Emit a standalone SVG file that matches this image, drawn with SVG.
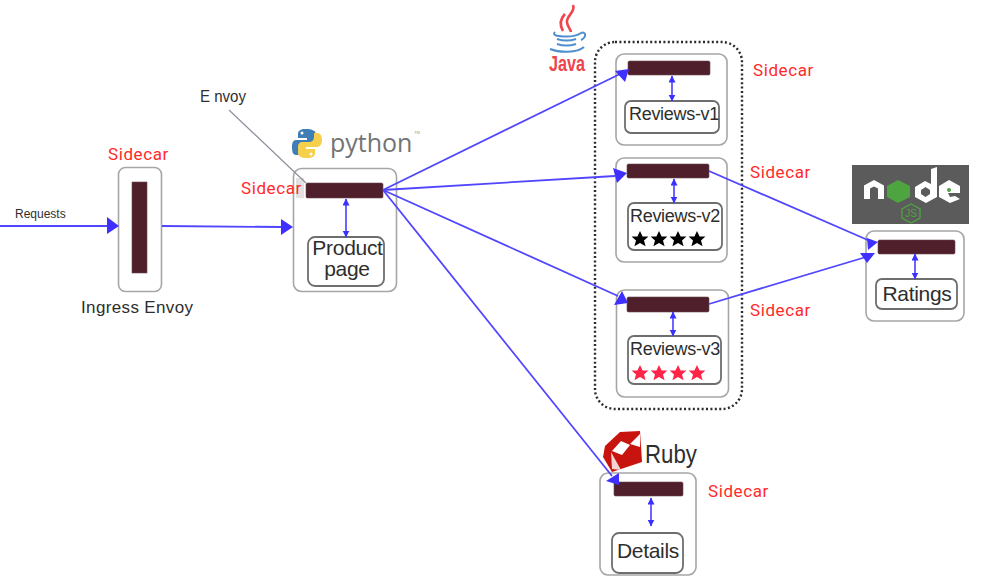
<svg xmlns="http://www.w3.org/2000/svg" width="1006" height="585" viewBox="0 0 1006 585">
<style>
.outer{fill:#fff;stroke:#a6a6a6;stroke-width:1.6}
.inner{fill:#fff;stroke:#6e6e6e;stroke-width:1.8}
.bar{fill:#4f1f2b;stroke:#6a4a52;stroke-width:.6}
.flow{fill:none;stroke:#5046ff;stroke-width:1.800}
.head{fill:#3f30ff}
.link{fill:none;stroke:#4a3dff;stroke-width:1.6;marker-start:url(#small);marker-end:url(#small)}
text{font-family:"Liberation Sans",Arial,sans-serif;fill:#2e2e2e}
.side{font-family:Roboto,"Liberation Sans",sans-serif;font-size:17px;fill:#ff2a2a;letter-spacing:.6px}
.name{font-size:18px;text-anchor:middle;letter-spacing:-.3px}
.wide{font-size:21px;letter-spacing:-.3px;text-anchor:middle}
</style>
<defs>
<marker id="small" markerUnits="userSpaceOnUse" markerWidth="8" markerHeight="10" refX="6.5" refY="3.5" orient="auto-start-reverse"><path d="M0 0L7 3.5L0 7z" fill="#3a30ff"/></marker>
<polygon id="star" points="0,-8 2.6,-2.4 8.4,-2.4 4,1.4 5.6,7.200 0,4 -5.600,7.200 -4,1.400 -8.400,-2.400 -2.600,-2.400"/>
</defs>

<rect x="595" y="42" width="147" height="367" rx="20" fill="none" stroke="#2b2b2b" stroke-width="2.4" stroke-dasharray="2 2.4"/>

<g id="ingress"><rect class="outer" x="118.500" y="167.500" width="43" height="124" rx="7"/><rect class="bar" x="132" y="182" width="15" height="91"/>
<text class="side" x="108" y="160">Sidecar</text><text x="81" y="313" font-size="17" textLength="112">Ingress Envoy</text></g>

<g id="productpage"><rect class="outer" x="293.500" y="168.500" width="103" height="123" rx="8"/><rect x="296" y="178" width="8" height="20" fill="#e2e2e2"/>
<rect class="bar" x="306" y="183" width="77" height="15" rx="1.500"/><rect class="inner" x="308" y="237" width="76" height="49" rx="7"/>
<text class="wide" x="347.500" y="255">Product</text><text class="wide" x="347" y="276">page</text>
<text class="side" x="241" y="194">Sidecar</text></g>

<g id="reviews-v1"><rect class="outer" x="616" y="54" width="111" height="91" rx="8"/><rect class="bar" x="628" y="61" width="82" height="14" rx="1.500"/><rect class="inner" x="625" y="101" width="94" height="32" rx="6"/>
<text class="name" x="674" y="120">Reviews-v1</text><text class="side" x="753" y="76">Sidecar</text></g>

<g id="reviews-v2"><rect class="outer" x="616" y="158" width="111" height="104" rx="8"/><rect class="bar" x="627" y="164" width="82" height="14" rx="1.500"/><rect class="inner" x="628" y="203" width="94" height="47" rx="6"/>
<text class="name" x="675" y="222">Reviews-v2</text>
<g fill="#000"><use href="#star" x="640" y="239"/><use href="#star" x="659" y="239"/><use href="#star" x="678" y="239"/><use href="#star" x="697" y="239"/></g>
<text class="side" x="750" y="178">Sidecar</text></g>

<g id="reviews-v3"><rect class="outer" x="616.500" y="290" width="112" height="107" rx="8"/><rect class="bar" x="627" y="297" width="82" height="15" rx="1.500"/><rect class="inner" x="628" y="336" width="93" height="48" rx="6"/>
<text class="name" x="675" y="355">Reviews-v3</text>
<g fill="#ff2448"><use href="#star" x="640" y="373"/><use href="#star" x="659" y="373"/><use href="#star" x="678" y="373"/><use href="#star" x="697" y="373"/></g>
<text class="side" x="750" y="316">Sidecar</text></g>

<g id="ratings"><rect class="outer" x="866" y="231" width="98" height="90" rx="8"/><rect class="bar" x="878" y="240" width="77" height="14" rx="1.500"/><rect class="inner" x="876" y="279" width="81" height="30" rx="6"/>
<text class="wide" x="917" y="301">Ratings</text></g>

<g id="details"><rect class="outer" x="600" y="473" width="96" height="102" rx="8"/><rect class="bar" x="614" y="482" width="69" height="14" rx="1.500"/><rect class="inner" x="612" y="533" width="71" height="40" rx="7"/>
<text class="wide" x="648" y="558">Details</text><text class="side" x="708" y="497">Sidecar</text></g>

<g id="connectors">
<path d="M229 110L306 183" fill="none" stroke="#8f8f9c" stroke-width="1.200"/>
<path class="flow" d="M0 226H108"/><polygon class="head" points="107,217 119,226 107,234"/>
<path class="flow" d="M162 226L282 227"/><polygon class="head" points="281,219 293,227 281,235"/>
<path class="flow" d="M383 190L620 74"/><polygon class="head" points="615,71 629,69 625,82"/>
<path class="flow" d="M383 190L615 176"/><polygon class="head" points="613,168 627,173 617,183"/>
<path class="flow" d="M383 190L618 296"/><polygon class="head" points="614,305 622,291 628,303"/>
<path class="flow" d="M383 190L612 476"/><polygon class="head" points="606,481 619,473 619,485"/>
<path class="flow" d="M709 171L870 241"/><polygon class="head" points="867,238 878,242 868,250"/>
<path class="flow" d="M709 304L866 257"/><polygon class="head" points="860,253 875,253 867,263"/>
<path class="link" d="M346 199V237"/>
<path class="link" d="M672 76V101"/>
<path class="link" d="M674 179V203"/>
<path class="link" d="M673 312V336"/>
<path class="link" d="M915 254V279"/>
<path class="link" d="M651 498V526"/>
</g>

<g id="labels"><text x="15" y="218" font-size="12">Requests</text><text x="200" y="102" font-size="16" textLength="46" lengthAdjust="spacingAndGlyphs">E nvoy</text></g>

<g id="python-logo">
<path d="M306 129c-6 0-8 2-8 5v4h9v2h-11c-3 0-4 3-4 7 0 5 1 8 4 8h4v-5c0-3 2-5 5-5h7c2 0 4-2 4-4v-7c0-3-4-5-10-5z" fill="#3f7fb5"/>
<path d="M307 158c6 0 8-2 8-5v-4h-9v-2h11c3 0 5-3 5-7 0-5-2-7-5-7h-3v4c0 3-2 5-5 5h-7c-2 0-4 2-4 4v7c0 3 3 5 9 5z" fill="#f6d04b"/>
<circle cx="302" cy="133" r="1.500" fill="#fff"/><circle cx="311" cy="154" r="1.500" fill="#fff"/>
<text x="330" y="152" font-size="25" style="fill:#737373;font-family:'Open Sans','Liberation Sans',sans-serif">python</text>
<text x="414" y="134" font-size="4" style="fill:#999">TM</text>
</g>

<g id="java-logo" fill="none">
<path d="M573 5c3 7-7 11-6 17 0 4 3 6 4 10M565 14c-5 5-6 10-2 17" stroke="#f0444c" stroke-width="2.600"/>
<path d="M555 32c-3 3 2 4 4 4 7 1 16 1 22-3M557 39c6 2 13 2 19 0M557 44c6 2 13 2 19 0M550 49c10 4 27 4 34-2M581 33c5-2 6 4 0 7" stroke="#4f8fd0" stroke-width="2"/>
<text x="549" y="71" font-size="22" textLength="36" lengthAdjust="spacingAndGlyphs" style="fill:#f0444c;font-weight:700">Java</text>
</g>

<g id="ruby-logo">
<path d="M620 432L640 431L642 462L612 472L603 457L605 446z" fill="#c8140e"/>
<path d="M621 441L630 445L622 455L612 451zM630 444L640 434L640 447z" fill="#fff"/>
<path d="M611 452L621 470L612 469z" fill="#f3d6d4"/>
<text x="645" y="463" font-size="25" textLength="52" lengthAdjust="spacingAndGlyphs">Ruby</text>
</g>

<g id="node-logo">
<rect x="852" y="165" width="117" height="59" fill="#5b5b5b"/>
<path d="M864 199V185.500L874 180L884 185.500V199H878V188.500L874 186.500L870 188.500V199z" fill="#fff"/>
<path d="M898 180L910 186V197L898 203L887 197V186z" fill="#4ea53f"/>
<path d="M931 169L937 167V197L926 203L915 197V187L925 181L931 184zM925.500 187L921 190V194L925.500 197L930 194V190z" fill="#fff" fill-rule="evenodd"/>
<path d="M949 180L960 186V193L948 193L950 197L955 196L960 199L950 203L939 197V186z" fill="#fff"/>
<circle cx="949" cy="190" r="2" fill="#4ea53f"/>
<path d="M911 204L920 209V218L911 223L902 218V209z" fill="none" stroke="#4ea53f" stroke-width="1.300"/>
<text x="911" y="217" font-size="10" text-anchor="middle" style="fill:#4ea53f">JS</text>
</g>
</svg>
